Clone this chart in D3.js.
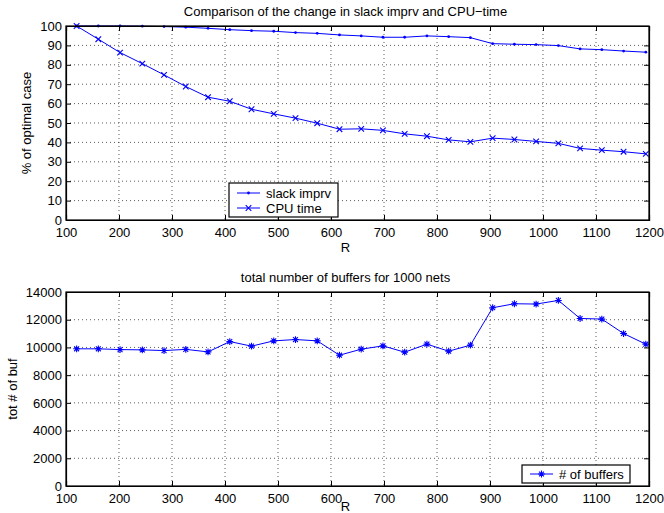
<!DOCTYPE html>
<html>
<head>
<meta charset="utf-8">
<script src="https://cdn.jsdelivr.net/npm/d3@7"></script>
<style>
  body { margin: 0; background: #fff; }
  svg text { font-family: "Liberation Sans", Arial, sans-serif; fill: #000; }
</style>
</head>
<body>
<div id="chart"></div>
<script>
const R = [120, 161, 202, 244, 285, 326, 368, 409, 450, 492, 533, 574, 616, 657,
  698, 739, 781, 822, 863, 905, 946, 987, 1029, 1070, 1111, 1152, 1194];

const slackImprv = [100, 100, 100, 99.9, 99.7, 99.4, 98.8, 98.1, 97.6, 97.3, 96.6, 96.2, 95.4, 94.9,
  94.2, 94.2, 94.9, 94.5, 94.0, 90.9, 90.6, 90.4, 89.9, 88.2, 87.8, 87.1, 86.5];

const cpuTime = [100, 93.2, 86.3, 80.6, 74.8, 68.8, 63.3, 61.2, 57.1, 54.7, 52.5, 49.9, 46.8, 47.0,
  46.2, 44.4, 43.2, 41.3, 40.3, 42.2, 41.5, 40.5, 39.5, 36.9, 36.0, 35.2, 34.1];

const buffers = [9900, 9900, 9845, 9823, 9773, 9860, 9678, 10424, 10091, 10475, 10569, 10475, 9440, 9874,
  10113, 9657, 10236, 9729, 10163, 12864, 13153, 13130, 13392, 12089, 12046, 11003, 10236];

const xTicks = [100, 200, 300, 400, 500, 600, 700, 800, 900, 1000, 1100, 1200];
const yTicksTop = [0, 10, 20, 30, 40, 50, 60, 70, 80, 90, 100];
const yTicksBottom = [0, 2000, 4000, 6000, 8000, 10000, 12000, 14000];

const width = 664;
const height = 513;
const blue = '#0000ff';
const fontSize = 13;

const svg = d3.select('#chart').append('svg')
  .attr('width', width)
  .attr('height', height);

function drawMarker(g, type, x, y) {
  if (type === 'dot') {
    g.append('circle').attr('cx', x).attr('cy', y).attr('r', 1.4).attr('fill', blue);
  } else if (type === 'x') {
    const s = 2.8;
    g.append('path')
      .attr('d', `M${x - s},${y - s}L${x + s},${y + s}M${x - s},${y + s}L${x + s},${y - s}`)
      .attr('stroke', blue).attr('stroke-width', 1.1).attr('fill', 'none');
  } else if (type === 'star') {
    const s = 3.4;
    const d = s * 0.72;
    g.append('path')
      .attr('d', `M${x - s},${y}L${x + s},${y}M${x},${y - s}L${x},${y + s}` +
        `M${x - d},${y - d}L${x + d},${y + d}M${x - d},${y + d}L${x + d},${y - d}`)
      .attr('stroke', blue).attr('stroke-width', 1.1).attr('fill', 'none');
  }
}

function panel(opts) {
  const { left, right, top, bottom, yDomain, yTicks, series, title, ylabel, ylabelX, xlabelY, titleY, legend } = opts;
  const x = d3.scaleLinear().domain([100, 1200]).range([left, right]);
  const y = d3.scaleLinear().domain(yDomain).range([bottom, top]);
  const g = svg.append('g');

  // grid
  const grid = g.append('g')
    .attr('stroke', '#000')
    .attr('stroke-width', 0.8)
    .attr('stroke-dasharray', '1,3')
    .attr('opacity', 0.8);
  xTicks.slice(1, -1).forEach(t => {
    grid.append('line').attr('x1', x(t)).attr('x2', x(t)).attr('y1', top).attr('y2', bottom);
  });
  yTicks.slice(1, -1).forEach(t => {
    grid.append('line').attr('x1', left).attr('x2', right).attr('y1', y(t)).attr('y2', y(t));
  });

  // series
  const line = d3.line().x((d, i) => x(R[i])).y(d => y(d));
  series.forEach(s => {
    g.append('path')
      .datum(s.values)
      .attr('d', line)
      .attr('fill', 'none')
      .attr('stroke', blue)
      .attr('stroke-width', 1);
    const mg = g.append('g');
    s.values.forEach((v, i) => drawMarker(mg, s.marker, x(R[i]), y(v)));
  });

  // axes (MATLAB style: inward ticks, box)
  const tickLen = 5;
  const fmt = d3.format('d');
  const xAxisB = d3.axisBottom(x).tickValues(xTicks).tickSize(-tickLen).tickPadding(8).tickFormat(fmt);
  const xAxisT = d3.axisTop(x).tickValues(xTicks).tickSize(-tickLen).tickFormat('');
  const yAxisL = d3.axisLeft(y).tickValues(yTicks).tickSize(-tickLen).tickPadding(4).tickFormat(fmt);
  const yAxisR = d3.axisRight(y).tickValues(yTicks).tickSize(-tickLen).tickFormat('');

  const axes = [
    g.append('g').attr('transform', `translate(0,${bottom})`).call(xAxisB),
    g.append('g').attr('transform', `translate(0,${top})`).call(xAxisT),
    g.append('g').attr('transform', `translate(${left},0)`).call(yAxisL),
    g.append('g').attr('transform', `translate(${right},0)`).call(yAxisR)
  ];
  axes.forEach(a => {
    a.selectAll('.domain').attr('stroke', '#000').attr('stroke-width', 1.2);
    a.selectAll('.tick line').attr('stroke', '#000').attr('stroke-width', 1);
    a.selectAll('.tick text')
      .style('font-family', '"Liberation Sans", Arial, sans-serif')
      .style('font-size', fontSize + 'px')
      .attr('fill', '#000');
  });
  // clean box corners
  g.append('rect')
    .attr('x', left).attr('y', top)
    .attr('width', right - left).attr('height', bottom - top)
    .attr('fill', 'none').attr('stroke', '#000').attr('stroke-width', 1.2);

  // title & labels
  g.append('text')
    .attr('x', (left + right) / 2 - 12).attr('y', titleY)
    .attr('text-anchor', 'middle')
    .style('font-size', '13px')
    .text(title);
  g.append('text')
    .attr('transform', `translate(${ylabelX},${(top + bottom) / 2}) rotate(-90)`)
    .attr('text-anchor', 'middle')
    .style('font-size', fontSize + 'px')
    .text(ylabel);
  g.append('text')
    .attr('x', (left + right) / 2 - 12).attr('y', xlabelY)
    .attr('text-anchor', 'middle')
    .style('font-size', fontSize + 'px')
    .text('R');

  // legend
  const lg = g.append('g');
  lg.append('rect')
    .attr('x', legend.x).attr('y', legend.y)
    .attr('width', legend.w).attr('height', legend.h)
    .attr('fill', '#fff').attr('stroke', '#000').attr('stroke-width', 1.2);
  legend.items.forEach((it, i) => {
    const ly = legend.y + legend.first + i * legend.step;
    lg.append('line')
      .attr('x1', legend.x + 8).attr('x2', legend.x + 31)
      .attr('y1', ly).attr('y2', ly)
      .attr('stroke', blue).attr('stroke-width', 1);
    drawMarker(lg, it.marker, legend.x + 19.5, ly);
    lg.append('text')
      .attr('x', legend.x + 37).attr('y', ly + 4.5)
      .style('font-size', fontSize + 'px')
      .text(it.label);
  });
}

panel({
  left: 66, right: 649, top: 26, bottom: 220,
  yDomain: [0, 100], yTicks: yTicksTop,
  series: [
    { values: slackImprv, marker: 'dot' },
    { values: cpuTime, marker: 'x' }
  ],
  title: 'Comparison of the change in slack imprv and CPU\u2212time',
  titleY: 16,
  ylabel: '% of optimal case', ylabelX: 31,
  xlabelY: 252,
  legend: {
    x: 229, y: 183, w: 109, h: 34, first: 10, step: 15,
    items: [
      { label: 'slack imprv', marker: 'dot' },
      { label: 'CPU time', marker: 'x' }
    ]
  }
});

panel({
  left: 66, right: 649, top: 292, bottom: 486,
  yDomain: [0, 14000], yTicks: yTicksBottom,
  series: [
    { values: buffers, marker: 'star' }
  ],
  title: 'total number of buffers for 1000 nets',
  titleY: 282,
  ylabel: 'tot # of buf', ylabelX: 17,
  xlabelY: 511,
  legend: {
    x: 522, y: 465, w: 108, h: 18, first: 9, step: 15,
    items: [
      { label: '# of buffers', marker: 'star' }
    ]
  }
});
</script>
</body>
</html>
